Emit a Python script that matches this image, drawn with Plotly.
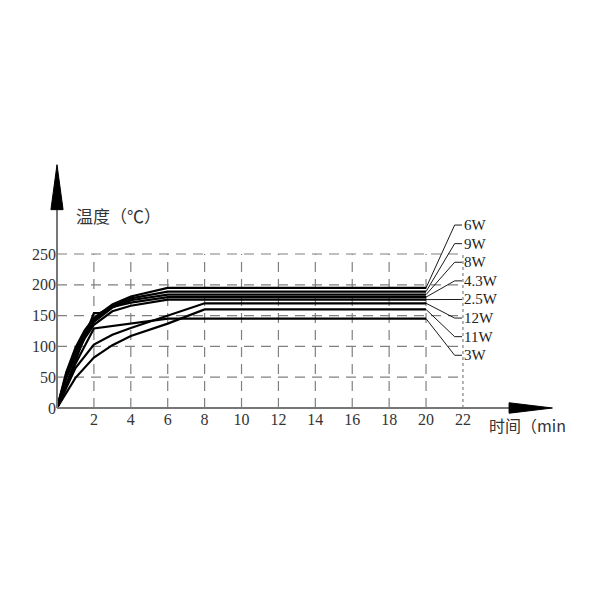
import plotly.graph_objects as go

# temperature rise curves (time in min, temperature in C)
labels = ["6W", "9W", "8W", "4.3W", "2.5W", "12W", "11W", "3W"]

t_6w = [0, 0.5, 1, 1.5, 2, 3, 4, 6, 20]
T_6w = [0, 58, 98, 126, 146, 168, 181, 195, 195]

t_9w = [0, 0.5, 1, 1.5, 2, 3, 4, 6, 20]
T_9w = [0, 55, 94, 122, 143, 165, 178, 189, 189]

t_8w = [0, 0.5, 1, 1.5, 2, 3, 4, 6, 20]
T_8w = [0, 52, 90, 118, 140, 163, 175, 184, 184]

t_4w3 = [0, 1, 2, 2.3, 3, 4, 6, 20]
T_4w3 = [0, 78, 154, 154, 164, 171, 180, 180]

t_2w5 = [0, 0.5, 1, 1.5, 2, 3, 4, 6, 20]
T_2w5 = [0, 48, 84, 113, 135, 157, 166, 176, 176]

t_12w = [0, 1, 2, 3, 4, 6, 8, 20]
T_12w = [0, 65, 103, 119, 130, 150, 170, 170]

t_11w = [0, 1, 2, 3, 4, 6, 8, 20]
T_11w = [0, 49, 82, 102, 117, 137, 160, 160]

t_3w = [0, 1, 2, 6, 20]
T_3w = [0, 72, 129, 145, 145]

y_ticks = [0, 50, 100, 150, 200, 250]
x_ticks = [2, 4, 6, 8, 10, 12, 14, 16, 18, 20, 22]

series = [(t_6w, T_6w), (t_9w, T_9w), (t_8w, T_8w), (t_4w3, T_4w3),
          (t_2w5, T_2w5), (t_12w, T_12w), (t_11w, T_11w), (t_3w, T_3w)]

fig = go.Figure()

grid_col = "#808080"
shapes = []
# dashed grid, stops at 22 min / 250 C
for yv in y_ticks[1:]:
    shapes.append(dict(type="line", x0=0, x1=22, y0=yv, y1=yv, xref="x", yref="y",
                       line=dict(color=grid_col, width=1.2, dash="10px,7px"), layer="below"))
for xv in x_ticks[:-1]:
    shapes.append(dict(type="line", x0=xv, x1=xv, y0=0, y1=250, xref="x", yref="y",
                       line=dict(color=grid_col, width=1.2, dash="10px,7px"), layer="below"))
shapes.append(dict(type="line", x0=22, x1=22, y0=0, y1=250, xref="x", yref="y",
                   line=dict(color=grid_col, width=1.2, dash="3px,3px"), layer="below"))

# axis lines with arrow heads
shapes.append(dict(type="line", x0=0, x1=0, y0=0, y1=322, xref="x", yref="y",
                   line=dict(color="#777", width=2)))
shapes.append(dict(type="line", x0=0, x1=24.6, y0=0, y1=0, xref="x", yref="y",
                   line=dict(color="#777", width=2)))
shapes.append(dict(type="path", path="M -0.33,322 L 0,395 L 0.33,322 Z", xref="x", yref="y",
                   fillcolor="black", line=dict(color="black", width=1)))
shapes.append(dict(type="path", path="M 24.5,-8.5 L 26.85,0 L 24.5,8.5 Z", xref="x", yref="y",
                   fillcolor="black", line=dict(color="black", width=1)))

for (t, T), name in zip(series, labels):
    fig.add_trace(go.Scatter(x=t, y=T, mode="lines", name=name,
                             line=dict(color="black", width=2.2), showlegend=False))

# leader lines to the power labels
annotations = []
for i, ((t, T), name) in enumerate(zip(series, labels)):
    ly = 297 - 30.2 * i
    fig.add_trace(go.Scatter(x=[t[-1], 21.55, 21.95], y=[T[-1], ly, ly], mode="lines",
                             line=dict(color="black", width=0.9), showlegend=False))
    annotations.append(dict(x=21.95, y=ly, text=name, showarrow=False, xanchor="left",
                            yanchor="middle", xref="x", yref="y",
                            font=dict(family="Liberation Serif", size=15, color="#222")))

annotations.append(dict(x=0.9, y=312, text="温度（℃）", showarrow=False, xanchor="left",
                        yanchor="middle", font=dict(family="Noto Sans CJK SC", size=17, color="#333")))
annotations.append(dict(x=23.3, y=-27, text="时间（min", showarrow=False, xanchor="left",
                        yanchor="middle", font=dict(family="Noto Sans CJK SC", size=16, color="#333")))

fig.update_layout(
    width=600, height=600,
    margin=dict(l=38, r=48, t=92, b=180),
    plot_bgcolor="white", paper_bgcolor="white",
    shapes=shapes, annotations=annotations,
)
fig.update_xaxes(range=[-0.596, 27.26], tickvals=x_ticks, showgrid=False, zeroline=False,
                 showline=False, ticks="", ticklabelstandoff=-20,
                 tickfont=dict(family="Liberation Serif", size=16, color="#333"))
fig.update_yaxes(range=[-32.47, 500], tickvals=y_ticks, showgrid=False, zeroline=False,
                 showline=False, ticks="", ticklabelstandoff=-11,
                 tickfont=dict(family="Liberation Serif", size=16, color="#333"))

fig.write_html("out.html")
